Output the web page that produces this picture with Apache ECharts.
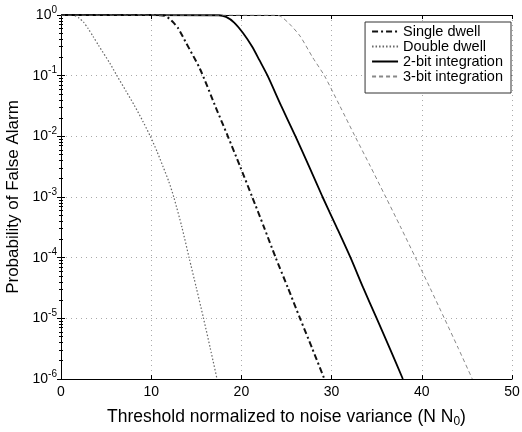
<!DOCTYPE html>
<html><head><meta charset="utf-8">
<script src="https://cdn.jsdelivr.net/npm/echarts@6/dist/echarts.min.js"></script>
<style>html,body{margin:0;padding:0;background:#fff}#c{width:522px;height:432px}</style>
</head><body><div id="c"></div>
<script>
// Data (x = threshold, y = probability of false alarm)
const seriesNames = ['Single dwell', 'Double dwell', '2-bit integration', '3-bit integration'];
const xTicks = [0, 10, 20, 30, 40, 50];
const yTickExponents = [0, -1, -2, -3, -4, -5, -6];

const singleDwellX = [0, 11, 11.5, 12, 12.5, 13, 13.9, 15.4, 17.2, 18.5, 19.85, 21.2, 22.5, 23.8, 25.15, 26.5, 27.85, 29.2];
const singleDwellY = [1, 0.995, 0.97, 0.87, 0.74, 0.6, 0.34, 0.13, 0.029, 0.01, 0.0032, 0.001, 3.2e-4, 1e-4, 3.2e-5, 1e-5, 3.2e-6, 1e-6];

const doubleDwellX = [0, 1, 1.5, 2, 2.5, 3, 3.57, 4.16, 5.42, 6.2, 7.2, 8.15, 9.05, 9.9, 10.65, 11.3, 11.95, 12.5, 13.4, 14.2, 15, 15.8, 16.55, 17.3];
const doubleDwellY = [1, 0.999, 0.98, 0.89, 0.76, 0.6, 0.44, 0.316, 0.16, 0.1, 0.056, 0.032, 0.018, 0.01, 0.0056, 0.0032, 0.0018, 0.001, 3.2e-4, 1e-4, 3.2e-5, 1e-5, 3.2e-6, 1e-6];

const twoBitX = [0, 17.5, 18.3, 19.2, 20.2, 21.2, 22, 22.9, 24.4, 26, 27.5, 29, 30.55, 32.1, 33.5, 35, 36.45, 37.9];
const twoBitY = [1, 0.99, 0.93, 0.75, 0.5, 0.3, 0.18, 0.1, 0.032, 0.01, 0.0032, 0.001, 3.2e-4, 1e-4, 3.2e-5, 1e-5, 3.2e-6, 1e-6];

const threeBitX = [0, 23.5, 24.3, 25.3, 26.5, 27.9, 29.2, 30.9, 32.6, 34.3, 36, 37.65, 39.3, 40.9, 42.5, 44.05, 45.6];
const threeBitY = [1, 0.995, 0.96, 0.72, 0.45, 0.2, 0.1, 0.032, 0.01, 0.0032, 0.001, 3.2e-4, 1e-4, 3.2e-5, 1e-5, 3.2e-6, 1e-6];

function pairs(xs, ys) { return xs.map((x, i) => [x, ys[i]]); }

const FONT = 'Liberation Sans, Arial, sans-serif';
const chart = echarts.init(document.getElementById('c'), null, {renderer: 'canvas'});

const gridLine = {show: true, lineStyle: {color: '#aaa', type: [1, 4], width: 1}};
const axisLine = {show: true, lineStyle: {color: '#000', width: 1}};
const tick = {show: true, inside: true, length: 4, lineStyle: {color: '#000'}};
const minor = {show: true, splitNumber: 9, length: 2, lineStyle: {color: '#000'}};

function yLabel(v) {
  const e = Math.round(Math.log10(v));
  return '{b|10}{s|' + e + '}';
}

chart.setOption({
  animation: false,
  backgroundColor: '#fff',
  textStyle: {fontFamily: FONT, color: '#000'},
  grid: {left: 61, right: 10, top: 15, bottom: 53, show: false, containLabel: false, outerBoundsMode: 'none'},
  legend: {
    orient: 'vertical', right: 11, top: 22,
    backgroundColor: '#fff', borderColor: '#333', borderWidth: 1,
    padding: [2, 8, 9, 6], itemGap: 0, itemWidth: 26, itemHeight: 14.3,
    itemStyle: {opacity: 0},
    textStyle: {fontFamily: FONT, fontSize: 14.5, color: '#000'},
    data: seriesNames
  },
  xAxis: [{
    type: 'value', min: xTicks[0], max: xTicks[xTicks.length - 1], interval: 10,
    axisLine: axisLine, axisTick: tick,
    axisLabel: {fontSize: 14, color: '#000', margin: 6, fontFamily: FONT},
    splitLine: gridLine,
    name: 'Threshold normalized to noise variance (N N{sub|0})',
    nameLocation: 'middle', nameGap: 27,
    nameTextStyle: {fontSize: 17.5, color: '#000', fontFamily: FONT,
      rich: {sub: {fontSize: 12, padding: [10, 0, 0, 0], fontFamily: FONT}}}
  }, {
    type: 'value', position: 'top', min: 0, max: 50, interval: 10,
    axisLine: axisLine, axisTick: tick,
    axisLabel: {show: false}, splitLine: {show: false}
  }],
  yAxis: [{
    type: 'log', logBase: 10, min: Math.pow(10, yTickExponents[yTickExponents.length - 1]), max: Math.pow(10, yTickExponents[0]),
    axisLine: axisLine, axisTick: tick,
    minorTick: minor,
    axisLabel: {formatter: yLabel, margin: 4, color: '#000',
      rich: {b: {fontSize: 14, fontFamily: FONT, color: '#000'},
             s: {fontSize: 10, fontFamily: FONT, color: '#000', padding: [0, 0, 10, 0]}}},
    splitLine: gridLine,
    name: 'Probability of False Alarm', nameLocation: 'middle', nameGap: 37,
    nameTextStyle: {fontSize: 17, color: '#000', fontFamily: FONT}
  }, {
    type: 'log', logBase: 10, position: 'right', min: 1e-6, max: 1,
    axisLine: axisLine, axisTick: tick, minorTick: minor,
    axisLabel: {show: false}, splitLine: {show: false}
  }],
  series: [
    {name: seriesNames[0], type: 'line', data: pairs(singleDwellX, singleDwellY), smooth: 0.25,
     symbol: 'none', lineStyle: {color: '#111', width: 2, type: [6, 3, 2, 3]}, itemStyle: {color: '#111'}},
    {name: seriesNames[1], type: 'line', data: pairs(doubleDwellX, doubleDwellY), smooth: 0.25,
     symbol: 'none', lineStyle: {color: '#666', width: 1.2, type: [1.5, 2]}, itemStyle: {color: '#666'}},
    {name: seriesNames[2], type: 'line', data: pairs(twoBitX, twoBitY), smooth: 0.25,
     symbol: 'none', lineStyle: {color: '#000', width: 1.8, type: 'solid'}, itemStyle: {color: '#000'}},
    {name: seriesNames[3], type: 'line', data: pairs(threeBitX, threeBitY), smooth: 0.25,
     symbol: 'none', lineStyle: {color: '#888', width: 1, type: [4, 3]}, itemStyle: {color: '#888'}}
  ]
});
</script></body></html>
